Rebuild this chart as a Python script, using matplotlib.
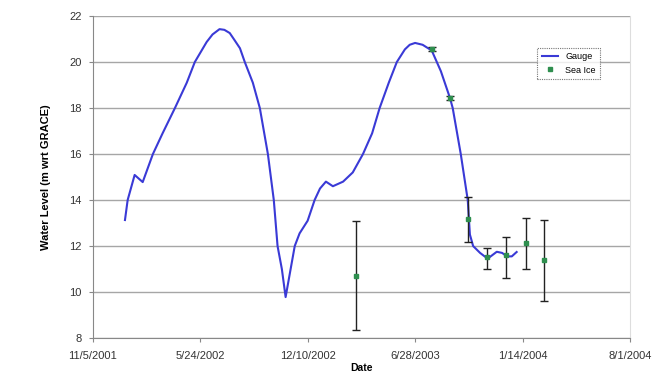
import matplotlib
matplotlib.use("Agg")
import matplotlib.pyplot as plt
from matplotlib.lines import Line2D
import pandas as pd

plt.rcParams["font.family"] = ["Liberation Sans", "DejaVu Sans"]

# gauge record
gauge_dates = [
    "2002-01-04", "2002-01-09", "2002-01-22", "2002-02-06", "2002-02-25",
    "2002-03-15", "2002-04-07", "2002-04-29", "2002-05-14", "2002-06-05",
    "2002-06-16", "2002-06-29", "2002-07-08", "2002-07-18", "2002-07-27",
    "2002-08-06", "2002-08-15", "2002-08-30", "2002-09-12",
    "2002-09-27", "2002-10-08", "2002-10-15", "2002-10-23", "2002-10-30",
    "2002-11-16", "2002-11-25", "2002-12-10", "2002-12-23", "2003-01-02",
    "2003-01-13", "2003-01-26", "2003-02-14", "2003-03-04", "2003-03-23",
    "2003-04-09", "2003-04-23", "2003-05-10", "2003-05-25", "2003-06-09",
    "2003-06-18", "2003-06-28",
    "2003-07-12", "2003-07-29", "2003-08-15", "2003-09-01", "2003-09-06",
    "2003-09-21", "2003-10-04", "2003-10-08", "2003-10-14", "2003-10-27",
    "2003-11-10", "2003-11-27", "2003-12-07", "2003-12-16", "2003-12-25",
    "2004-01-03",
]
gauge_level = [
    13.13, 14.0, 15.09, 14.78, 16.0,
    16.9, 18.0, 19.1, 20.0, 20.87,
    21.2, 21.43, 21.4, 21.26, 20.95,
    20.6, 20.0, 19.1, 18.0,
    16.0, 14.0, 12.0, 11.0, 9.78,
    12.0, 12.55, 13.1, 14.0, 14.5,
    14.8, 14.6, 14.8, 15.2, 16.0,
    16.9, 18.0, 19.1, 20.0, 20.55,
    20.75, 20.83,
    20.75, 20.5, 19.6, 18.43, 18.0,
    16.0, 14.0, 12.5, 12.0, 11.7,
    11.45, 11.75, 11.7, 11.55, 11.55,
    11.74,
]

# sea ice estimates with lower / upper bounds
ice_dates = [
    "2003-03-10", "2003-07-29", "2003-09-01", "2003-10-04",
    "2003-11-09", "2003-12-14", "2004-01-20", "2004-02-23",
]
ice_level = [10.7, 20.56, 18.43, 13.17, 11.52, 11.6, 12.13, 11.4]
ice_low = [8.35, 20.46, 18.33, 12.17, 11.0, 10.6, 11.0, 9.6]
ice_high = [13.1, 20.66, 18.53, 14.13, 11.9, 12.4, 13.2, 13.13]

tick_dates = ["2001-11-05", "2002-05-24", "2002-12-10",
              "2003-06-28", "2004-01-14", "2004-08-01"]
tick_labels = ["11/5/2001", "5/24/2002", "12/10/2002",
               "6/28/2003", "1/14/2004", "8/1/2004"]

gx = pd.to_datetime(gauge_dates)
ix = pd.to_datetime(ice_dates)
tx = pd.to_datetime(tick_dates)
err_lo = [v - lo for v, lo in zip(ice_level, ice_low)]
err_hi = [hi - v for v, hi in zip(ice_level, ice_high)]

line_col = "#3a3ad6"
ice_col = "#2f8f4f"

fig = plt.figure(figsize=(6.72, 3.91), dpi=100)
ax = fig.add_axes([0.138, 0.1355, 0.7995, 0.8235])

ax.plot(gx, gauge_level, color=line_col, lw=1.5, zorder=3)
ax.errorbar(ix, ice_level, yerr=[err_lo, err_hi], fmt="s", ms=2.8,
            color=ice_col, ecolor="#222222", elinewidth=1.0, capsize=3,
            capthick=1.0, zorder=4)

ax.set_ylim(8, 22)
ax.set_yticks(range(8, 23, 2))
ax.set_xlim(tx[0], tx[-1])
ax.set_xticks(tx)
ax.set_xticklabels(tick_labels)

ax.grid(axis="y", color="#a6a6a6", lw=1)
ax.set_axisbelow(True)
ax.spines["top"].set_visible(False)
ax.spines["right"].set_color("#dddddd")
ax.spines["left"].set_color("#888888")
ax.spines["bottom"].set_color("#888888")
ax.tick_params(axis="both", labelsize=8, colors="#888888", length=3,
               labelcolor="#333333")
ax.tick_params(axis="y", pad=5)
ax.tick_params(axis="x", pad=6)

ax.set_xlabel("Date", fontsize=7.5, fontweight="bold", labelpad=2)
ax.set_ylabel("Water Level (m wrt GRACE)", fontsize=8, fontweight="bold",
              labelpad=13)

handles = [
    Line2D([], [], color=line_col, lw=1.5),
    Line2D([], [], color=ice_col, lw=0, marker="s", ms=2.8),
]
leg = ax.legend(handles, ["Gauge", "Sea Ice"], loc="upper right",
                bbox_to_anchor=(0.953, 0.916), fontsize=6.5, frameon=True,
                fancybox=False, borderpad=0.5, handlelength=1.8,
                labelspacing=0.5)
leg.get_frame().set_edgecolor("#555555")
leg.get_frame().set_linestyle((0, (1, 1)))
leg.get_frame().set_linewidth(0.8)

fig.savefig("out.png", dpi=100)
